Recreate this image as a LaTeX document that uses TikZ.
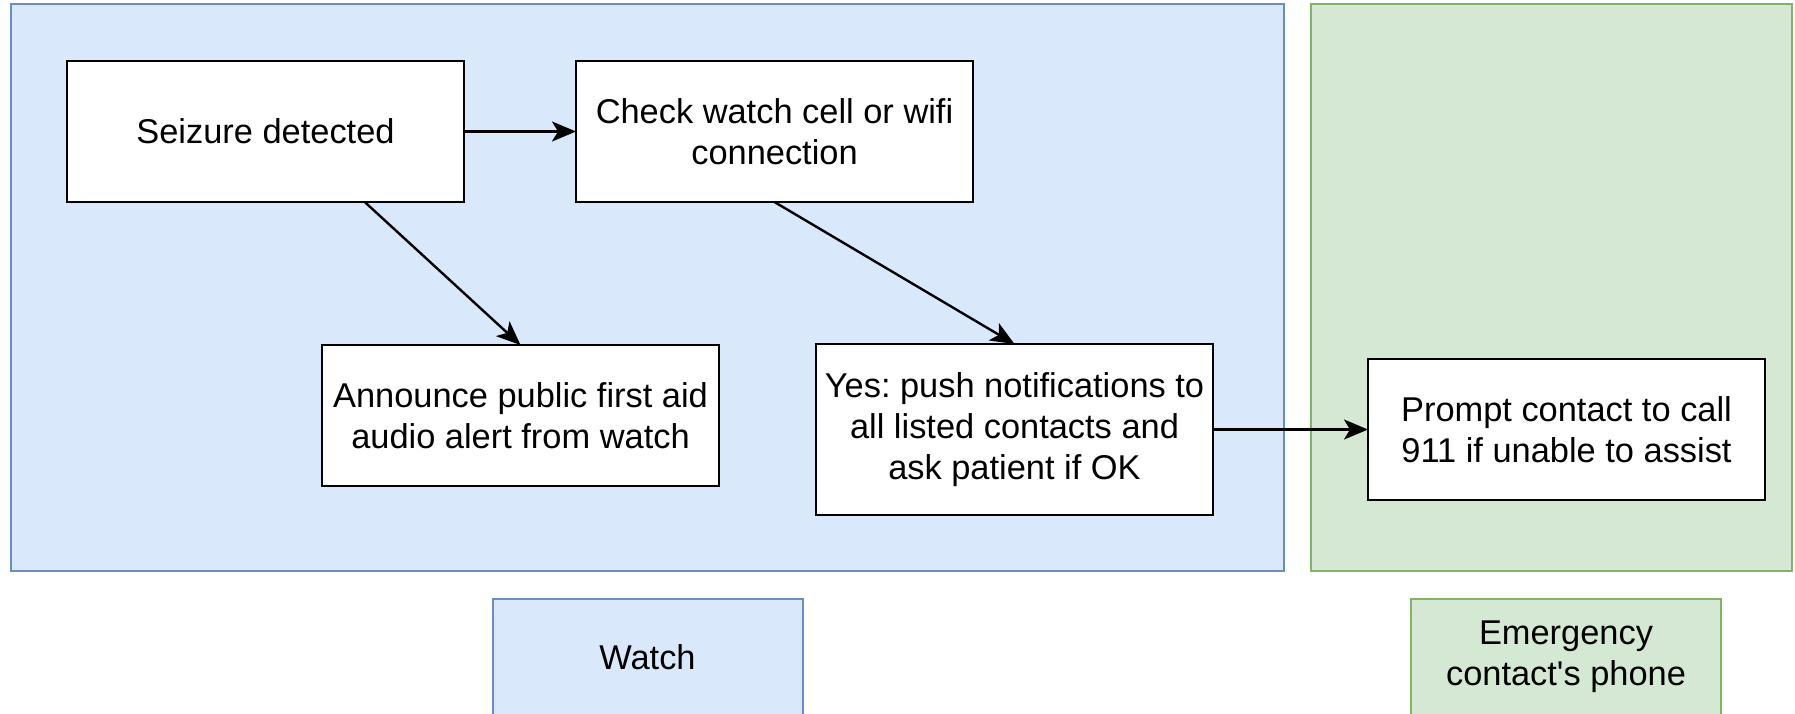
\documentclass[tikz,border=0pt]{standalone}
\usepackage{fontspec}
\setmainfont{Liberation Sans}
\usetikzlibrary{arrows.meta,calc}
\definecolor{bluefill}{HTML}{DAE8FC}
\definecolor{blueline}{HTML}{6C8EBF}
\definecolor{greenfill}{HTML}{D5E8D4}
\definecolor{greenline}{HTML}{82B366}
\frenchspacing
\begin{document}
\begin{tikzpicture}[x=0.5pt,y=-0.5pt,
  panel/.style={line width=1pt, inner sep=0pt, outer sep=0pt},
  bluepanel/.style={panel, draw=blueline, fill=bluefill},
  greenpanel/.style={panel, draw=greenline, fill=greenfill},
  stepbox/.style={draw=black, fill=white, line width=1.2pt, align=center, inner sep=0pt, outer sep=0pt,
    minimum width=198.5pt, minimum height=70.5pt, font=\fontsize{17.2}{20.5}\selectfont},
  lanelabel/.style={line width=1pt, align=center, inner sep=0pt, outer sep=0pt,
    minimum width=155pt, minimum height=58pt, font=\fontsize{17.2}{20.5}\selectfont},
  conn/.style={-{Stealth[length=12pt,width=10pt,inset=3pt]}, line width=1.2pt}
]
\useasboundingbox (0,0) rectangle (1795,713);
\fill[white] (0,0) rectangle (1795,713);
% lanes
\node[bluepanel, minimum width=636.5pt, minimum height=283.5pt] (watchlane) at (647.5,287.5) {};
\node[greenpanel, minimum width=240.5pt, minimum height=283.5pt] (phonelane) at (1551.5,287.5) {};
% lane labels
\node[lanelabel, draw=blueline, fill=bluefill] (watchlabel) at (647.5,657) {Watch};
\node[lanelabel, draw=greenline, fill=greenfill] (phonelabel) at (1566,657) {Emergency\\contact\textquotesingle s phone};
% steps
\node[stepbox] (seizure) at (265.5,131.5) {Seizure detected};
\node[stepbox] (check) at (774.5,131.5) {Check watch cell or wifi\\connection};
\node[stepbox] (announce) at (520.5,415.5) {Announce public first aid\\audio alert from watch};
\node[stepbox, minimum height=85.5pt] (yes) at (1014.5,429.5) {Yes: push notifications to\\all listed contacts and\\ask patient if OK};
\node[stepbox] (prompt) at (1566.5,429.5) {Prompt contact to call\\911 if unable to assist};
% connectors
\draw[conn] (seizure) -- (check);
\draw[conn] ($(seizure.south west)!0.75!(seizure.south east)$) -- (announce.north);
\draw[conn] (check.south) -- (yes.north);
\draw[conn] (yes) -- (prompt);
\end{tikzpicture}
\end{document}
